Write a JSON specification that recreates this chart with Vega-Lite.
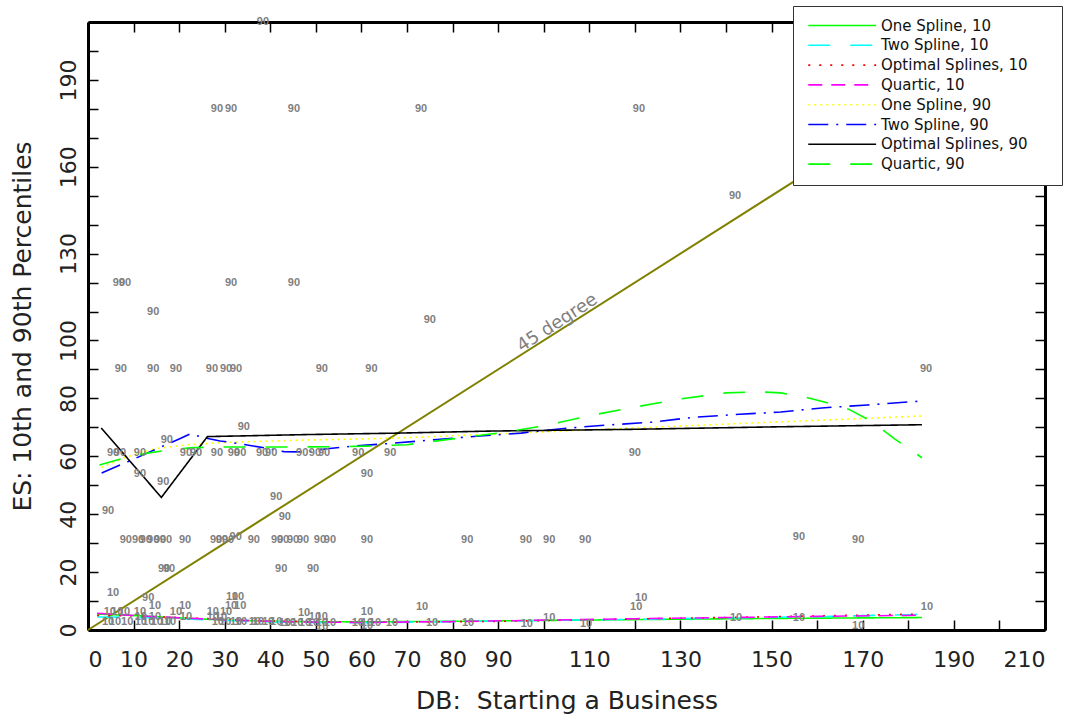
{
  "$schema": "https://vega.github.io/schema/vega-lite/v6.json",
  "width": 957,
  "height": 608,
  "autosize": {"type": "none"},
  "padding": {"left": 88, "top": 22, "right": 27, "bottom": 91},
  "background": "white",
  "config": {
    "view": {"stroke": null},
    "axis": {
      "domainColor": "#000", "domainWidth": 3,
      "tickColor": "#000", "tickWidth": 1.5, "tickSize": -10,
      "grid": false, "labelOverlap": false,
      "labelFont": "DejaVu Sans", "labelFontSize": 22, "labelColor": "#222",
      "titleFont": "DejaVu Sans", "titleFontSize": 25, "titleFontWeight": "normal", "titleColor": "#222"
    }
  },
  "datasets": {
    "diag": [{"x": 0, "y": 0}, {"x": 210, "y": 210}],
    "ann": [{"x": 103, "y": 106, "t": "45 degree"}],
    "curves": [
      {"s": "One Spline, 10", "x": 2, "y": 5.5}, {"s": "One Spline, 10", "x": 10, "y": 5}, {"s": "One Spline, 10", "x": 20, "y": 4.2}, {"s": "One Spline, 10", "x": 30, "y": 3.4}, {"s": "One Spline, 10", "x": 45, "y": 2.9}, {"s": "One Spline, 10", "x": 60, "y": 2.8}, {"s": "One Spline, 10", "x": 80, "y": 3}, {"s": "One Spline, 10", "x": 100, "y": 3.3}, {"s": "One Spline, 10", "x": 120, "y": 3.6}, {"s": "One Spline, 10", "x": 150, "y": 4}, {"s": "One Spline, 10", "x": 183, "y": 4.3},
      {"s": "Two Spline, 10", "x": 2, "y": 4.5}, {"s": "Two Spline, 10", "x": 10, "y": 4.4}, {"s": "Two Spline, 10", "x": 20, "y": 3.9}, {"s": "Two Spline, 10", "x": 30, "y": 3.3}, {"s": "Two Spline, 10", "x": 45, "y": 2.6}, {"s": "Two Spline, 10", "x": 60, "y": 2.5}, {"s": "Two Spline, 10", "x": 80, "y": 2.9}, {"s": "Two Spline, 10", "x": 100, "y": 3.3}, {"s": "Two Spline, 10", "x": 130, "y": 3.9}, {"s": "Two Spline, 10", "x": 160, "y": 4.6}, {"s": "Two Spline, 10", "x": 183, "y": 5.4},
      {"s": "Optimal Splines, 10", "x": 2, "y": 5}, {"s": "Optimal Splines, 10", "x": 10, "y": 4.9}, {"s": "Optimal Splines, 10", "x": 25, "y": 4}, {"s": "Optimal Splines, 10", "x": 40, "y": 3.1}, {"s": "Optimal Splines, 10", "x": 60, "y": 2.6}, {"s": "Optimal Splines, 10", "x": 90, "y": 3}, {"s": "Optimal Splines, 10", "x": 120, "y": 3.8}, {"s": "Optimal Splines, 10", "x": 150, "y": 4.6}, {"s": "Optimal Splines, 10", "x": 183, "y": 5.5},
      {"s": "Quartic, 10", "x": 2, "y": 5.8}, {"s": "Quartic, 10", "x": 10, "y": 5}, {"s": "Quartic, 10", "x": 20, "y": 4.2}, {"s": "Quartic, 10", "x": 30, "y": 3.5}, {"s": "Quartic, 10", "x": 45, "y": 2.8}, {"s": "Quartic, 10", "x": 60, "y": 2.6}, {"s": "Quartic, 10", "x": 80, "y": 2.9}, {"s": "Quartic, 10", "x": 100, "y": 3.4}, {"s": "Quartic, 10", "x": 120, "y": 3.9}, {"s": "Quartic, 10", "x": 140, "y": 4.3}, {"s": "Quartic, 10", "x": 160, "y": 4.7}, {"s": "Quartic, 10", "x": 183, "y": 5.1},
      {"s": "One Spline, 90", "x": 2.9, "y": 56.1}, {"s": "One Spline, 90", "x": 8, "y": 59.5}, {"s": "One Spline, 90", "x": 14.6, "y": 62.6}, {"s": "One Spline, 90", "x": 22, "y": 64}, {"s": "One Spline, 90", "x": 30, "y": 64.8}, {"s": "One Spline, 90", "x": 47.5, "y": 65.6}, {"s": "One Spline, 90", "x": 66, "y": 66.2}, {"s": "One Spline, 90", "x": 88, "y": 67.6}, {"s": "One Spline, 90", "x": 120, "y": 69.8}, {"s": "One Spline, 90", "x": 152, "y": 71.9}, {"s": "One Spline, 90", "x": 183, "y": 73.9},
      {"s": "Two Spline, 90", "x": 3, "y": 54.2}, {"s": "Two Spline, 90", "x": 10, "y": 59}, {"s": "Two Spline, 90", "x": 15, "y": 62.5}, {"s": "Two Spline, 90", "x": 20, "y": 66}, {"s": "Two Spline, 90", "x": 22.5, "y": 67.8}, {"s": "Two Spline, 90", "x": 25, "y": 66.6}, {"s": "Two Spline, 90", "x": 29, "y": 65.3}, {"s": "Two Spline, 90", "x": 33, "y": 64.4}, {"s": "Two Spline, 90", "x": 38.8, "y": 62.9}, {"s": "Two Spline, 90", "x": 43, "y": 61.6}, {"s": "Two Spline, 90", "x": 48, "y": 61.5}, {"s": "Two Spline, 90", "x": 52, "y": 62.5}, {"s": "Two Spline, 90", "x": 57.5, "y": 63.4}, {"s": "Two Spline, 90", "x": 66, "y": 64.4}, {"s": "Two Spline, 90", "x": 76.6, "y": 65.8}, {"s": "Two Spline, 90", "x": 86, "y": 67}, {"s": "Two Spline, 90", "x": 95, "y": 68}, {"s": "Two Spline, 90", "x": 105, "y": 69.7}, {"s": "Two Spline, 90", "x": 114, "y": 70.8}, {"s": "Two Spline, 90", "x": 124, "y": 71.8}, {"s": "Two Spline, 90", "x": 133, "y": 73.5}, {"s": "Two Spline, 90", "x": 143, "y": 74.5}, {"s": "Two Spline, 90", "x": 152, "y": 75.3}, {"s": "Two Spline, 90", "x": 161, "y": 76.7}, {"s": "Two Spline, 90", "x": 171, "y": 77.7}, {"s": "Two Spline, 90", "x": 183, "y": 79.1},
      {"s": "Optimal Splines, 90", "x": 2.9, "y": 69.8}, {"s": "Optimal Splines, 90", "x": 16.1, "y": 45.8}, {"s": "Optimal Splines, 90", "x": 26.2, "y": 66.8}, {"s": "Optimal Splines, 90", "x": 48, "y": 67.5}, {"s": "Optimal Splines, 90", "x": 68, "y": 68}, {"s": "Optimal Splines, 90", "x": 88, "y": 68.7}, {"s": "Optimal Splines, 90", "x": 119, "y": 69.3}, {"s": "Optimal Splines, 90", "x": 152, "y": 70.2}, {"s": "Optimal Splines, 90", "x": 183, "y": 70.9},
      {"s": "Quartic, 90", "x": 2.5, "y": 57}, {"s": "Quartic, 90", "x": 8, "y": 59.4}, {"s": "Quartic, 90", "x": 12.7, "y": 61}, {"s": "Quartic, 90", "x": 17.6, "y": 62.2}, {"s": "Quartic, 90", "x": 22.4, "y": 62.9}, {"s": "Quartic, 90", "x": 27, "y": 63.2}, {"s": "Quartic, 90", "x": 40, "y": 63.2}, {"s": "Quartic, 90", "x": 55, "y": 63.3}, {"s": "Quartic, 90", "x": 61, "y": 63.5}, {"s": "Quartic, 90", "x": 70, "y": 64}, {"s": "Quartic, 90", "x": 80, "y": 66}, {"s": "Quartic, 90", "x": 90, "y": 68}, {"s": "Quartic, 90", "x": 100, "y": 70.5}, {"s": "Quartic, 90", "x": 110, "y": 74}, {"s": "Quartic, 90", "x": 120, "y": 77}, {"s": "Quartic, 90", "x": 130, "y": 79.8}, {"s": "Quartic, 90", "x": 140, "y": 81.9}, {"s": "Quartic, 90", "x": 147, "y": 82.3}, {"s": "Quartic, 90", "x": 152, "y": 81.9}, {"s": "Quartic, 90", "x": 157, "y": 80.6}, {"s": "Quartic, 90", "x": 162, "y": 78.6}, {"s": "Quartic, 90", "x": 167, "y": 76.2}, {"s": "Quartic, 90", "x": 172, "y": 72}, {"s": "Quartic, 90", "x": 177, "y": 66}, {"s": "Quartic, 90", "x": 183, "y": 59.5}
    ],
    "pts": [
      {"x": 38.4, "y": 210, "p": "90"},
      {"x": 28.3, "y": 180, "p": "90"}, {"x": 31.4, "y": 180, "p": "90"}, {"x": 45.2, "y": 180, "p": "90"}, {"x": 73.1, "y": 180, "p": "90"}, {"x": 120.9, "y": 180, "p": "90"},
      {"x": 142, "y": 150, "p": "90"},
      {"x": 6.8, "y": 120, "p": "90"}, {"x": 8.1, "y": 120, "p": "90"}, {"x": 31.4, "y": 120, "p": "90"}, {"x": 45.2, "y": 120, "p": "90"},
      {"x": 14.3, "y": 110, "p": "90"}, {"x": 75, "y": 107, "p": "90"},
      {"x": 7.2, "y": 90, "p": "90"}, {"x": 14.3, "y": 90, "p": "90"}, {"x": 19.3, "y": 90, "p": "90"}, {"x": 27.2, "y": 90, "p": "90"}, {"x": 30.3, "y": 90, "p": "90"}, {"x": 32.5, "y": 90, "p": "90"}, {"x": 51.3, "y": 90, "p": "90"}, {"x": 62.2, "y": 90, "p": "90"}, {"x": 183.9, "y": 90, "p": "90"},
      {"x": 34.2, "y": 70, "p": "90"}, {"x": 17.3, "y": 65.6, "p": "90"},
      {"x": 5.5, "y": 61, "p": "90"}, {"x": 7, "y": 61, "p": "90"}, {"x": 11.4, "y": 61, "p": "90"}, {"x": 21.5, "y": 61, "p": "90"}, {"x": 23.7, "y": 61, "p": "90"}, {"x": 28.3, "y": 61, "p": "90"}, {"x": 32, "y": 61, "p": "90"}, {"x": 33.4, "y": 61, "p": "90"}, {"x": 38.2, "y": 61, "p": "90"}, {"x": 40.2, "y": 61, "p": "90"}, {"x": 47, "y": 61, "p": "90"}, {"x": 49.8, "y": 61, "p": "90"}, {"x": 51.8, "y": 61, "p": "90"}, {"x": 59.3, "y": 61, "p": "90"}, {"x": 66.3, "y": 61, "p": "90"}, {"x": 120, "y": 61, "p": "90"},
      {"x": 61.2, "y": 54, "p": "90"}, {"x": 11.4, "y": 54, "p": "90"}, {"x": 16.5, "y": 51, "p": "90"}, {"x": 4.4, "y": 41, "p": "90"}, {"x": 41.3, "y": 46, "p": "90"}, {"x": 43.2, "y": 39, "p": "90"},
      {"x": 8.3, "y": 31, "p": "90"}, {"x": 11, "y": 31, "p": "90"}, {"x": 12.7, "y": 31, "p": "90"}, {"x": 14.3, "y": 31, "p": "90"}, {"x": 15.8, "y": 31, "p": "90"}, {"x": 17.1, "y": 31, "p": "90"}, {"x": 21.3, "y": 31, "p": "90"}, {"x": 28.1, "y": 31, "p": "90"}, {"x": 29.4, "y": 31, "p": "90"}, {"x": 30.7, "y": 31, "p": "90"}, {"x": 32.4, "y": 32, "p": "90"}, {"x": 36.4, "y": 31, "p": "90"}, {"x": 41.5, "y": 31, "p": "90"}, {"x": 42.8, "y": 31, "p": "90"}, {"x": 45, "y": 31, "p": "90"}, {"x": 47.2, "y": 31, "p": "90"}, {"x": 50.9, "y": 31, "p": "90"}, {"x": 53.1, "y": 31, "p": "90"}, {"x": 61.2, "y": 31, "p": "90"}, {"x": 83.2, "y": 31, "p": "90"}, {"x": 96.1, "y": 31, "p": "90"}, {"x": 101.2, "y": 31, "p": "90"}, {"x": 109.1, "y": 31, "p": "90"}, {"x": 156, "y": 32, "p": "90"}, {"x": 169, "y": 31, "p": "90"},
      {"x": 16.7, "y": 21, "p": "90"}, {"x": 17.8, "y": 21, "p": "90"}, {"x": 42.4, "y": 21, "p": "90"}, {"x": 49.4, "y": 21, "p": "90"},
      {"x": 13.2, "y": 11, "p": "90"},
      {"x": 5.5, "y": 12.8, "p": "10"}, {"x": 14.7, "y": 8.3, "p": "10"}, {"x": 21.3, "y": 8.3, "p": "10"}, {"x": 31.6, "y": 11.4, "p": "10"}, {"x": 32.9, "y": 11.4, "p": "10"}, {"x": 31.4, "y": 8.3, "p": "10"}, {"x": 33.4, "y": 8.3, "p": "10"},
      {"x": 4.8, "y": 6.2, "p": "10"}, {"x": 6.4, "y": 6.2, "p": "10"}, {"x": 7.9, "y": 6.2, "p": "10"}, {"x": 11.4, "y": 6.2, "p": "10"}, {"x": 19.3, "y": 6.2, "p": "10"}, {"x": 27.4, "y": 6.2, "p": "10"}, {"x": 30.3, "y": 6.2, "p": "10"}, {"x": 47.4, "y": 6, "p": "10"}, {"x": 61.2, "y": 6.2, "p": "10"}, {"x": 73.3, "y": 7.9, "p": "10"},
      {"x": 11.6, "y": 4.5, "p": "10"}, {"x": 14.7, "y": 4.5, "p": "10"}, {"x": 21.5, "y": 4.5, "p": "10"}, {"x": 27.4, "y": 4.5, "p": "10"}, {"x": 29.2, "y": 4.5, "p": "10"}, {"x": 49.8, "y": 4.5, "p": "10"}, {"x": 51.3, "y": 4.5, "p": "10"},
      {"x": 4.4, "y": 2.8, "p": "10"}, {"x": 5.9, "y": 2.8, "p": "10"}, {"x": 8.6, "y": 2.8, "p": "10"}, {"x": 11.6, "y": 2.8, "p": "10"}, {"x": 13.2, "y": 2.8, "p": "10"}, {"x": 15.1, "y": 2.8, "p": "10"}, {"x": 16.9, "y": 2.8, "p": "10"}, {"x": 18, "y": 2.8, "p": "10"}, {"x": 28.5, "y": 2.8, "p": "10"}, {"x": 30.1, "y": 2.8, "p": "10"}, {"x": 32.5, "y": 2.8, "p": "10"}, {"x": 33.6, "y": 2.8, "p": "10"}, {"x": 36.6, "y": 2.8, "p": "10"}, {"x": 37.3, "y": 2.8, "p": "10"}, {"x": 39.5, "y": 2.8, "p": "10"}, {"x": 41.3, "y": 2.8, "p": "10"},
      {"x": 43.2, "y": 2.4, "p": "10"}, {"x": 44.3, "y": 2.4, "p": "10"}, {"x": 45.9, "y": 2.4, "p": "10"}, {"x": 47.6, "y": 2.4, "p": "10"}, {"x": 49.4, "y": 2.4, "p": "10"}, {"x": 51.3, "y": 2.4, "p": "10"}, {"x": 53.1, "y": 2.4, "p": "10"}, {"x": 59.2, "y": 2.4, "p": "10"}, {"x": 61.2, "y": 2.4, "p": "10"}, {"x": 63, "y": 2.4, "p": "10"}, {"x": 66.7, "y": 2.4, "p": "10"}, {"x": 75.5, "y": 2.4, "p": "10"}, {"x": 83.4, "y": 2.4, "p": "10"},
      {"x": 51.4, "y": 1, "p": "10"}, {"x": 61.2, "y": 1.4, "p": "10"},
      {"x": 121.4, "y": 11, "p": "10"}, {"x": 120.3, "y": 8, "p": "10"}, {"x": 101.2, "y": 4.1, "p": "10"}, {"x": 96.3, "y": 2.1, "p": "10"}, {"x": 109.3, "y": 2.1, "p": "10"}, {"x": 142.2, "y": 4.1, "p": "10"}, {"x": 156, "y": 4.1, "p": "10"}, {"x": 169, "y": 1.4, "p": "10"}, {"x": 184.1, "y": 8, "p": "10"}
    ]
  },
  "layer": [
    {
      "data": {"name": "diag"},
      "mark": {"type": "line", "color": "#808000", "strokeWidth": 2},
      "encoding": {
        "x": {"field": "x", "type": "quantitative",
          "scale": {"domain": [0, 210], "nice": false, "zero": true},
          "axis": {"orient": "bottom", "values": [0,10,20,30,40,50,60,70,80,90,100,110,120,130,140,150,160,170,180,190,200,210],
            "labelExpr": "(datum.value < 100 || datum.value % 20 == 10) ? datum.label : ''",
            "labelPadding": 29, "title": "DB:\u00a0 Starting a Business", "titlePadding": 18}},
        "y": {"field": "y", "type": "quantitative",
          "scale": {"domain": [0, 210], "nice": false, "zero": true},
          "axis": {"orient": "left", "values": [0,10,20,30,40,50,60,70,80,90,100,110,120,130,140,150,160,170,180,190,200,210],
            "labelExpr": "(datum.value <= 100 ? datum.value % 20 == 0 : datum.value % 30 == 10) ? datum.label : ''",
            "labelAngle": -90, "labelAlign": "center", "labelBaseline": "bottom",
            "labelPadding": 18, "title": "ES: 10th and 90th Percentiles", "titlePadding": 22}}
      }
    },
    {
      "data": {"name": "curves"},
      "mark": {"type": "line", "strokeWidth": 1.6},
      "encoding": {
        "x": {"field": "x", "type": "quantitative",
          "axis": {"orient": "top", "values": [0,10,20,30,40,50,60,70,80,90,100,110,120,130,140,150,160,170,180,190,200,210], "labels": false, "title": null}},
        "y": {"field": "y", "type": "quantitative",
          "axis": {"orient": "right", "values": [0,10,20,30,40,50,60,70,80,90,100,110,120,130,140,150,160,170,180,190,200,210], "labels": false, "title": null}},
        "color": {"field": "s", "type": "nominal",
          "scale": {"domain": ["One Spline, 10", "Two Spline, 10", "Optimal Splines, 10", "Quartic, 10", "One Spline, 90", "Two Spline, 90", "Optimal Splines, 90", "Quartic, 90"],
            "range": ["#00ff00", "#00ffff", "#ff0000", "#ff00ff", "#ffff00", "#0000ff", "#000000", "#00ff00"]},
          "legend": {"title": null, "orient": "none", "legendX": 705, "legendY": -16, "strokeColor": "#333", "fillColor": "#ffffff", "padding": 12,
            "labelFont": "DejaVu Sans", "labelFontSize": 15, "labelColor": "#111", "labelLimit": 400, "labelOffset": 61,
            "labelExpr": "datum.label + '\u2800\u2800'",
            "symbolType": "M-1,0H15", "symbolSize": 72, "symbolStrokeWidth": 1.6, "rowPadding": 3.8}},
        "strokeDash": {"field": "s", "type": "nominal",
          "scale": {"domain": ["One Spline, 10", "Two Spline, 10", "Optimal Splines, 10", "Quartic, 10", "One Spline, 90", "Two Spline, 90", "Optimal Splines, 90", "Quartic, 90"],
            "range": [[1, 0], [22, 20], [2, 9], [14, 9], [2, 4], [20, 8, 2, 8], [1, 0], [22, 20]]},
          "legend": {"title": null, "orient": "none", "legendX": 705, "legendY": -16, "strokeColor": "#333", "fillColor": "#ffffff", "padding": 12,
            "labelFont": "DejaVu Sans", "labelFontSize": 15, "labelColor": "#111", "labelLimit": 400, "labelOffset": 61,
            "labelExpr": "datum.label + '\u2800\u2800'",
            "symbolType": "M-1,0H15", "symbolSize": 72, "symbolStrokeWidth": 1.6, "rowPadding": 3.8}}
      }
    },
    {
      "data": {"name": "pts"},
      "mark": {"type": "text", "font": "Liberation Sans", "fontSize": 11, "fontWeight": "bold", "color": "#808080"},
      "encoding": {
        "x": {"field": "x", "type": "quantitative", "axis": null},
        "y": {"field": "y", "type": "quantitative", "axis": null},
        "text": {"field": "p"}
      }
    },
    {
      "data": {"name": "ann"},
      "mark": {"type": "text", "font": "DejaVu Sans", "fontSize": 18, "angle": -33, "color": "#808080"},
      "encoding": {
        "x": {"field": "x", "type": "quantitative", "axis": null},
        "y": {"field": "y", "type": "quantitative", "axis": null},
        "text": {"field": "t"}
      }
    }
  ],
  "resolve": {"axis": {"x": "independent", "y": "independent"}}
}
